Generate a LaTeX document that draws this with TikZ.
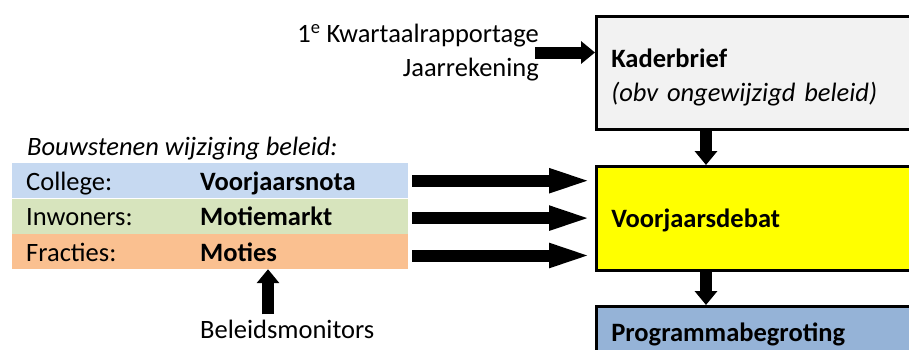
\documentclass[tikz,border=0pt]{standalone}
\usepackage{fontspec}
\setmainfont{Carlito}
\usetikzlibrary{arrows.meta}
\definecolor{kadergrijs}{HTML}{F2F2F2}
\definecolor{debatgeel}{HTML}{FFFF00}
\definecolor{begrotingblauw}{HTML}{95B3D7}
\definecolor{rijblauw}{HTML}{C6D9F1}
\definecolor{rijgroen}{HTML}{D7E4BD}
\definecolor{rijoranje}{HTML}{FAC090}
\begin{document}
\begin{tikzpicture}[
			x=1pt, y=1pt,
			font=\fontsize{26.5}{34.5}\selectfont,
			box/.style={rectangle, draw, line width=2.5pt, anchor=north west, inner xsep=15pt, inner ysep=0pt, text width=290pt, align=left},
			rij/.style={rectangle, anchor=north west, minimum width=396pt, minimum height=35pt, text width=368pt, inner xsep=14pt, inner ysep=0pt, text height=27pt, text depth=8pt},
			pijl/.style={line width=12pt, -{Triangle[length=14pt, width=22pt]}},
			langepijl/.style={line width=12pt, -{Triangle[length=46pt, width=21pt]}}
		]
		\useasboundingbox (0,0) rectangle (909,-349);

		\node[box, fill=kadergrijs, minimum height=113pt] (kader) at (595,-15) {\rule{0pt}{28pt}\textbf{Kaderbrief}\\\textit{(obv ongewijzigd beleid)}};
		\node[box, fill=debatgeel, minimum height=104pt, text height=24pt, text depth=6pt] (debat) at (595,-165) {\textbf{Voorjaarsdebat}};
		\node[box, fill=begrotingblauw, minimum height=52pt, text height=24pt, text depth=6pt] (begroting) at (595,-305) {\textbf{Programmabegroting}};

		\node[anchor=east, align=right, inner sep=0pt] (bron) at (539,-52.5) {1\textsuperscript{e} Kwartaalrapportage\\Jaarrekening};
		\node[anchor=base west, inner sep=0pt] (bouwstenen) at (27,-155) {\textit{Bouwstenen wijziging beleid:}};

		\node[rij, fill=rijblauw] (college) at (12,-163) {\makebox[174pt][l]{College:}\textbf{Voorjaarsnota}};
		\node[rij, fill=rijgroen] (inwoners) at (college.south west) {\makebox[174pt][l]{Inwoners:}\textbf{Motiemarkt}};
		\node[rij, fill=rijoranje] (fracties) at (inwoners.south west) {\makebox[174pt][l]{Fracties:}\textbf{Moties}};

		\node[anchor=base west, inner sep=0pt] (monitors) at (200,-338) {Beleidsmonitors};

		\draw[pijl] ([xshift=-4pt]bron.east) -- (bron.east -| kader.west);
		\draw[pijl] ([xshift=111pt]kader.south west) -- ([xshift=111pt]debat.north west);
		\draw[pijl] ([xshift=111pt]debat.south west) -- ([xshift=111pt]begroting.north west);
		\draw[langepijl] ([xshift=4pt]college.east) -- (college.east -| debat.west);
		\draw[langepijl] ([xshift=4pt,yshift=-2pt]inwoners.east) -- ([yshift=-2pt]inwoners.east -| debat.west);
		\draw[langepijl] ([xshift=4pt,yshift=-4pt]fracties.east) -- ([yshift=-4pt]fracties.east -| debat.west);
		\draw[pijl] ([xshift=68pt,yshift=5pt]monitors.north west) -- ([xshift=68pt]monitors.north west |- fracties.south);
	\end{tikzpicture}
\end{document}
